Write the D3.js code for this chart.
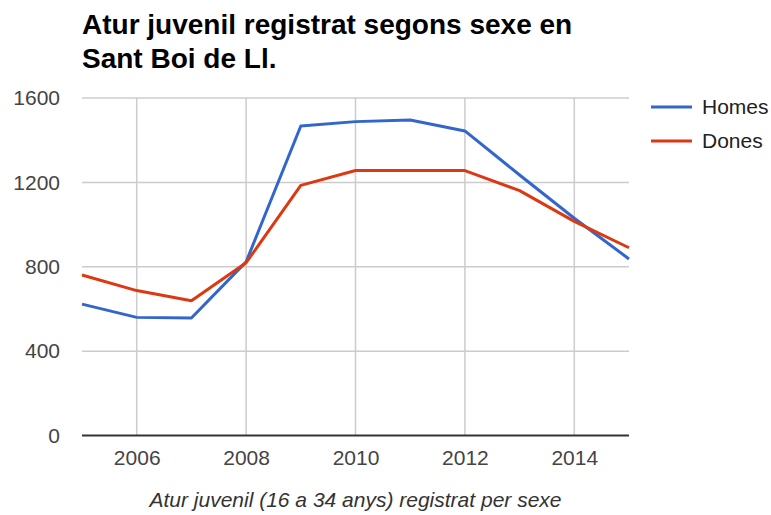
<!DOCTYPE html>
<html>
<head>
<meta charset="utf-8">
<script src="https://cdn.jsdelivr.net/npm/d3@7"></script>
<style>
  body { margin: 0; background: #fff; }
  text { font-family: Arial, "Liberation Sans", sans-serif; }
</style>
</head>
<body>
<div id="chart"></div>
<script>
// data
var years = [2005, 2006, 2007, 2008, 2009, 2010, 2011, 2012, 2013, 2014, 2015];
var homes = [623, 560, 557, 823, 1467, 1488, 1496, 1444, 1235, 1030, 837];
var dones = [761, 687, 639, 819, 1186, 1256, 1256, 1256, 1161, 1015, 890];
var xTicks = [2006, 2008, 2010, 2012, 2014];
var yTicks = [0, 400, 800, 1200, 1600];
var seriesNames = ['Homes', 'Dones'];
var seriesColors = ['#3366cc', '#dc3912'];

var width = 771, height = 515;
var margin = {top: 98, right: 142, bottom: 79.5, left: 82};
var w = width - margin.left - margin.right,
    h = height - margin.top - margin.bottom;

var svg = d3.select('#chart').append('svg')
  .attr('width', width)
  .attr('height', height);

var g = svg.append('g')
  .attr('transform', 'translate(' + margin.left + ',' + margin.top + ')');

var x = d3.scaleLinear().domain([2005, 2015]).range([0, w]);
var y = d3.scaleLinear().domain([0, 1600]).range([h, 0]);

// gridlines
g.append('g')
  .selectAll('line')
  .data(yTicks.filter(function (d) { return d > 0; }))
  .enter().append('line')
  .attr('x1', 0).attr('x2', w)
  .attr('y1', function (d) { return y(d); })
  .attr('y2', function (d) { return y(d); })
  .attr('stroke', '#cccccc')
  .attr('stroke-width', 1.5);

g.append('g')
  .selectAll('line')
  .data(xTicks)
  .enter().append('line')
  .attr('x1', function (d) { return x(d); })
  .attr('x2', function (d) { return x(d); })
  .attr('y1', 0).attr('y2', h)
  .attr('stroke', '#cccccc')
  .attr('stroke-width', 1.5);

// axes (labels only, no domain path)
var xAxis = g.append('g')
  .attr('transform', 'translate(0,' + h + ')')
  .call(d3.axisBottom(x).tickValues(xTicks).tickFormat(d3.format('d')).tickSize(0).tickPadding(15));
xAxis.select('.domain').remove();
xAxis.selectAll('text')
  .attr('font-size', 21)
  .attr('font-family', 'Arial, "Liberation Sans", sans-serif')
  .attr('fill', '#444');

var yAxis = g.append('g')
  .call(d3.axisLeft(y).tickValues(yTicks).tickFormat(d3.format('d')).tickSize(0).tickPadding(22));
yAxis.select('.domain').remove();
yAxis.selectAll('text')
  .attr('font-size', 21)
  .attr('font-family', 'Arial, "Liberation Sans", sans-serif')
  .attr('fill', '#444');

// baseline
g.append('line')
  .attr('x1', 0).attr('x2', w)
  .attr('y1', y(0)).attr('y2', y(0))
  .attr('stroke', '#333')
  .attr('stroke-width', 2);

// lines
var line = d3.line()
  .x(function (d) { return x(d[0]); })
  .y(function (d) { return y(d[1]); });

[homes, dones].forEach(function (vals, i) {
  g.append('path')
    .datum(years.map(function (yr, j) { return [yr, vals[j]]; }))
    .attr('fill', 'none')
    .attr('stroke', seriesColors[i])
    .attr('stroke-width', 3)
    .attr('stroke-linejoin', 'round')
    .attr('d', line);
});

// legend
var legend = svg.append('g')
  .selectAll('g')
  .data(seriesNames)
  .enter().append('g')
  .attr('transform', function (d, i) { return 'translate(651,' + (107 + i * 34) + ')'; });

legend.append('line')
  .attr('x1', 0).attr('x2', 41)
  .attr('stroke', function (d, i) { return seriesColors[i]; })
  .attr('stroke-width', 3);

legend.append('text')
  .attr('x', 51)
  .attr('dy', '0.35em')
  .attr('font-size', 21)
  .attr('fill', '#222')
  .text(function (d) { return d; });

// title
var title = svg.append('text')
  .attr('x', 82)
  .attr('y', 34)
  .attr('font-size', 28)
  .attr('font-weight', 'bold')
  .attr('fill', '#000');
title.append('tspan').attr('x', 82).text('Atur juvenil registrat segons sexe en');
title.append('tspan').attr('x', 82).attr('dy', 34).text('Sant Boi de Ll.');

// x axis title
svg.append('text')
  .attr('x', margin.left + w / 2)
  .attr('y', 507)
  .attr('text-anchor', 'middle')
  .attr('font-size', 21)
  .attr('font-style', 'italic')
  .attr('fill', '#333')
  .text('Atur juvenil (16 a 34 anys) registrat per sexe');
</script>
</body>
</html>
